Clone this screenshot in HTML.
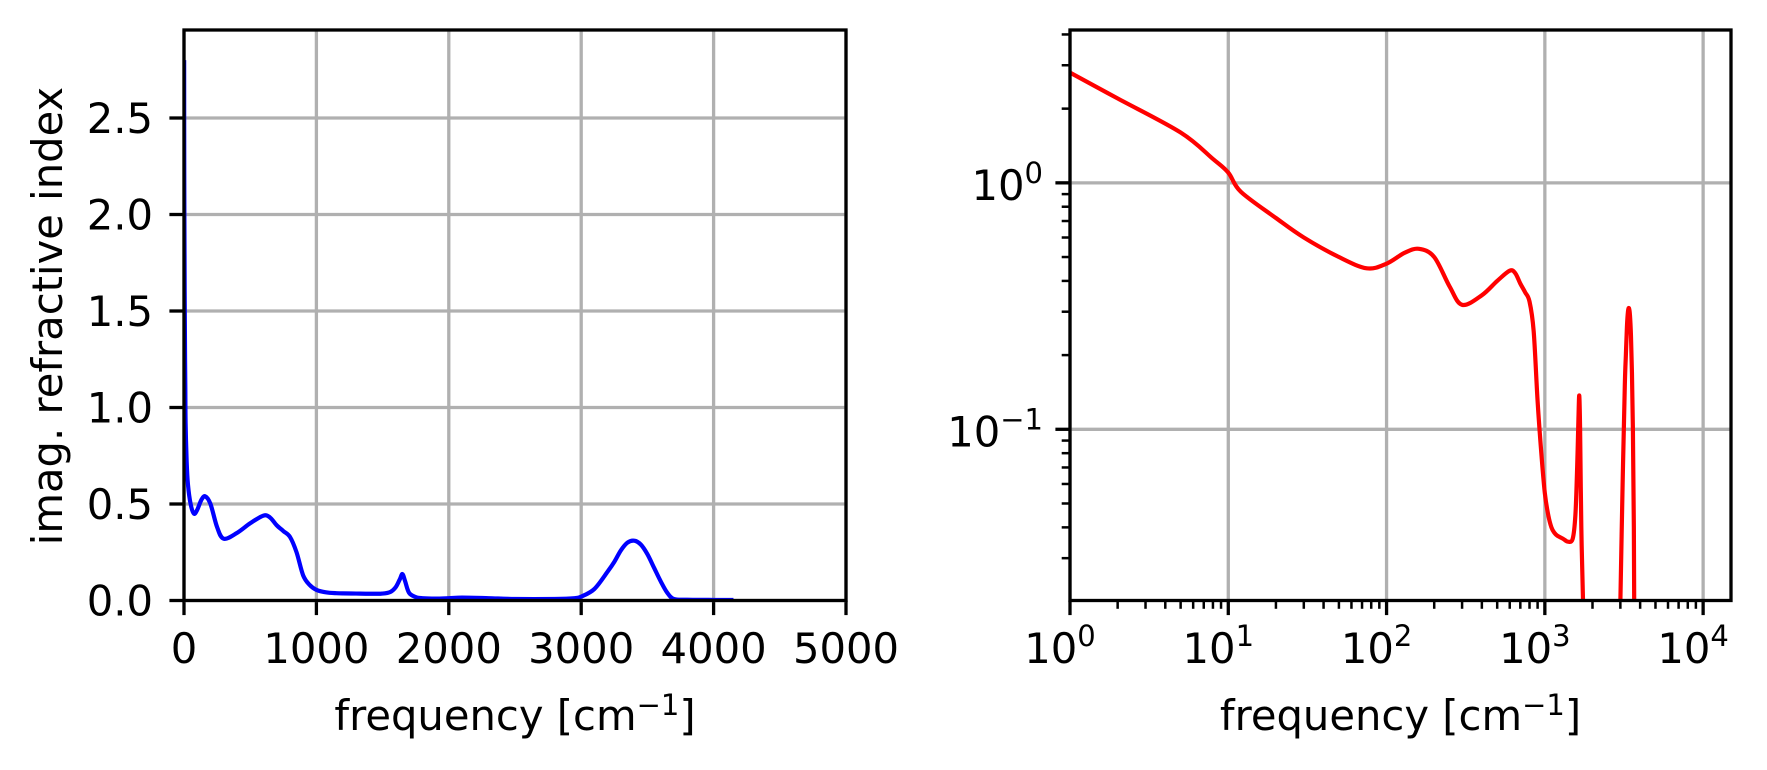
<!DOCTYPE html>
<html><head><meta charset="utf-8"><style>
body{margin:0;background:#fff}
svg{display:block}
text{font-family:"DejaVu Sans","Liberation Sans",sans-serif;fill:#000}
</style></head><body>
<svg id="fig" width="1767" height="770" viewBox="0 0 1767 770" xmlns="http://www.w3.org/2000/svg">
<g id="left"></g>
<g id="right"></g>
</svg>
<script>
const freq = [1,2,5,8,10,12,20,30,50,75,100,130,160,200,250,300,400,500,600,650,700,750,800,850,900,950,1000,1050,1100,1150,1200,1300,1400,1500,1560,1600,1630,1650,1670,1700,1750,1800,1900,2000,2100,2300,2500,2800,2950,3000,3100,3200,3250,3300,3350,3400,3450,3500,3550,3600,3650,3700,3800,4000,4150];
const kval = [2.8,2.2,1.6,1.25,1.1,0.92,0.72,0.6,0.5,0.45,0.47,0.52,0.54,0.5,0.38,0.32,0.35,0.4,0.44,0.43,0.39,0.36,0.33,0.25,0.13,0.08,0.055,0.045,0.04,0.038,0.037,0.036,0.035,0.036,0.045,0.07,0.11,0.137,0.1,0.04,0.018,0.012,0.01,0.012,0.015,0.012,0.008,0.008,0.012,0.02,0.06,0.15,0.2,0.26,0.3,0.31,0.29,0.24,0.17,0.1,0.04,0.008,0.004,0.003,0.003];
const leftXTicks = [0,1000,2000,3000,4000,5000];
const leftYTicks = [0,0.5,1.0,1.5,2.0,2.5];
const rightXExp = [0,1,2,3,4];
const rightYExp = [-1,0];

const NS="http://www.w3.org/2000/svg";
function mk(parent,tag,attrs,txt){const e=document.createElementNS(NS,tag);for(const k in attrs)e.setAttribute(k,attrs[k]);if(txt!==undefined)e.textContent=txt;parent.appendChild(e);return e;}
function smooth(pts){let d='M'+pts[0][0].toFixed(2)+','+pts[0][1].toFixed(2);
  for(let i=0;i<pts.length-1;i++){const p0=pts[i-1]||pts[i],p1=pts[i],p2=pts[i+1],p3=pts[i+2]||p2;
    const c1=[p1[0]+(p2[0]-p0[0])/6,p1[1]+(p2[1]-p0[1])/6],c2=[p2[0]-(p3[0]-p1[0])/6,p2[1]-(p3[1]-p1[1])/6];
    d+=' C'+c1[0].toFixed(2)+','+c1[1].toFixed(2)+' '+c2[0].toFixed(2)+','+c2[1].toFixed(2)+' '+p2[0].toFixed(2)+','+p2[1].toFixed(2);}
  return d;}
const FS=41.7;

// LEFT panel
const L={x0:184,x1:846,y0:30,y1:600.5,xmin:0,xmax:5000,ymin:0,ymax:2.956};
const lx=v=>L.x0+(v-L.xmin)/(L.xmax-L.xmin)*(L.x1-L.x0);
const ly=v=>L.y1-(v-L.ymin)/(L.ymax-L.ymin)*(L.y1-L.y0);
const gl=document.getElementById('left');
mk(gl,'defs',{}).innerHTML='<clipPath id="cl"><rect x="184" y="30" width="662" height="570.5"/></clipPath><clipPath id="cr"><rect x="1070" y="30" width="661" height="570.5"/></clipPath>';
leftXTicks.forEach(t=>{
  const g=mk(gl,'line',{x1:lx(t),x2:lx(t),y1:L.y0,y2:L.y1,stroke:'#b0b0b0','stroke-width':3.3});
  
  const tk=mk(gl,'line',{x1:lx(t),x2:lx(t),y1:L.y1,y2:L.y1+14.6,stroke:'#000','stroke-width':3.3});
  
  const tl=mk(gl,'text',{x:lx(t),y:663,'font-size':FS,'text-anchor':'middle'},String(t));
  
});
leftYTicks.forEach(t=>{
  const g=mk(gl,'line',{x1:L.x0,x2:L.x1,y1:ly(t),y2:ly(t),stroke:'#b0b0b0','stroke-width':3.3});
  
  const tk=mk(gl,'line',{x1:L.x0-14.6,x2:L.x0,y1:ly(t),y2:ly(t),stroke:'#000','stroke-width':3.3});
  
  const tl=mk(gl,'text',{x:153,y:ly(t)+15,'font-size':FS,'text-anchor':'end'},t.toFixed(1));
  
});
const d=smooth(freq.map((f,i)=>[lx(f),ly(kval[i])]));
const bl=mk(gl,'path',{d:d,fill:'none',stroke:'#0000ff','stroke-width':4.2,'stroke-linejoin':'round','clip-path':'url(#cl)'});

const sl=mk(gl,'rect',{x:L.x0,y:L.y0,width:L.x1-L.x0,height:L.y1-L.y0,fill:'none',stroke:'#000','stroke-width':3.3});

const yt=mk(gl,'text',{x:0,y:0,'font-size':FS,'text-anchor':'middle',transform:'translate(62,316) rotate(-90)'},'imag. refractive index');

const xt=mk(gl,'text',{x:(L.x0+L.x1)/2,y:730,'font-size':FS,'text-anchor':'middle'});

xt.innerHTML='frequency [cm<tspan dy="-15" font-size="29">−1</tspan><tspan dy="15">]</tspan>';

// RIGHT panel
const R={x0:1070,x1:1731,y0:30,y1:600.5,lxmin:0,lxmax:Math.log10(1.5e4),lymin:Math.log10(0.0202),lymax:Math.log10(4.17)};
const rx=v=>R.x0+(Math.log10(v)-R.lxmin)/(R.lxmax-R.lxmin)*(R.x1-R.x0);
const ry=v=>R.y1-(Math.log10(v)-R.lymin)/(R.lymax-R.lymin)*(R.y1-R.y0);
const gr=document.getElementById('right');
rightXExp.forEach(e=>{
  const v=Math.pow(10,e);
  const g=mk(gr,'line',{x1:rx(v),x2:rx(v),y1:R.y0,y2:R.y1,stroke:'#b0b0b0','stroke-width':3.3});
  
  const tk=mk(gr,'line',{x1:rx(v),x2:rx(v),y1:R.y1,y2:R.y1+14.6,stroke:'#000','stroke-width':3.3});
  
  const tl=mk(gr,'text',{x:rx(v)-10,y:663,'font-size':FS,'text-anchor':'middle'});
  
  tl.innerHTML='10<tspan dy="-17" font-size="29">'+e+'</tspan>';
  for(let m=2;m<10;m++){const mv=m*v; if(mv>1.5e4)break;
    const mt=mk(gr,'line',{x1:rx(mv),x2:rx(mv),y1:R.y1,y2:R.y1+8.3,stroke:'#000','stroke-width':2.5});
    }
});
[-2,-1,0].forEach(e=>{const v=Math.pow(10,e);for(let m=2;m<10;m++){const mv=m*v;if(mv<0.0202||mv>4.17)continue;
  const mt=mk(gr,'line',{x1:R.x0-8.3,x2:R.x0,y1:ry(mv),y2:ry(mv),stroke:'#000','stroke-width':2.5});
  }});
rightYExp.forEach(e=>{
  const v=Math.pow(10,e);
  const g=mk(gr,'line',{x1:R.x0,x2:R.x1,y1:ry(v),y2:ry(v),stroke:'#b0b0b0','stroke-width':3.3});
  
  const tk=mk(gr,'line',{x1:R.x0-14.6,x2:R.x0,y1:ry(v),y2:ry(v),stroke:'#000','stroke-width':3.3});
  
  const tl=mk(gr,'text',{x:1043,y:ry(v)+17,'font-size':FS,'text-anchor':'end'});
  
  tl.innerHTML='10<tspan dy="-17" font-size="29">'+(e<0?'−'+(-e):e)+'</tspan>';
});
const d2=smooth(freq.map((f,i)=>[rx(f),ry(kval[i])]));
const rl=mk(gr,'path',{d:d2,fill:'none',stroke:'#ff0000','stroke-width':4.2,'stroke-linejoin':'round','clip-path':'url(#cr)'});

const sr=mk(gr,'rect',{x:R.x0,y:R.y0,width:R.x1-R.x0,height:R.y1-R.y0,fill:'none',stroke:'#000','stroke-width':3.3});

const xt2=mk(gr,'text',{x:(R.x0+R.x1)/2,y:730,'font-size':FS,'text-anchor':'middle'});

xt2.innerHTML='frequency [cm<tspan dy="-15" font-size="29">−1</tspan><tspan dy="15">]</tspan>';
</script>
</body></html>
